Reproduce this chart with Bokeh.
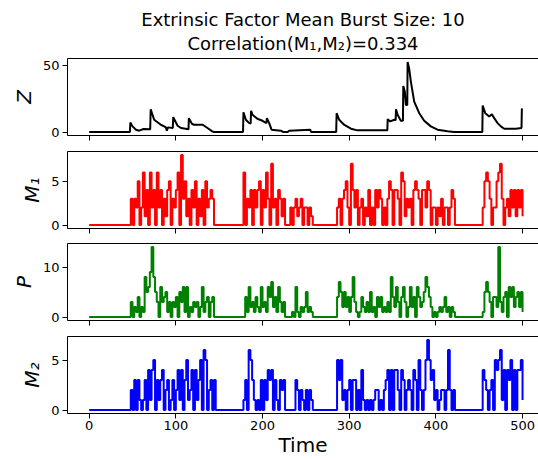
from bokeh.plotting import figure
from bokeh.layouts import column
from bokeh.models import Range1d, FixedTicker, LinearAxis, Title, CustomLabelingPolicy
from bokeh.embed import file_html
from bokeh.resources import INLINE

# ---------------- data ----------------
time_grid = list(range(0, 501, 2))

m1_values = [
    0, 0, 0, 0, 0, 0, 0, 0, 0, 0, 0, 0, 0, 0, 0, 0, 0, 0, 0, 0, 0, 0, 0, 0, 3,
    0, 3, 2, 5, 0, 2, 6, 1, 4, 0, 6, 2, 4, 0, 6, 2, 4, 0, 3, 1, 4, 5, 0, 3, 2,
    4, 6, 0, 8, 3, 5, 1, 3, 0, 4, 2, 5, 0, 3, 1, 4, 0, 5, 2, 3, 4, 3, 0, 0, 0,
    0, 0, 0, 0, 0, 0, 0, 0, 0, 0, 0, 0, 0, 0, 6, 0, 3, 2, 4, 0, 4, 2, 4, 5, 0,
    4, 2, 6, 3, 0, 7, 2, 3, 0, 4, 3, 1, 3, 0, 0, 0, 2, 0, 2, 3, 1, 2, 3, 0, 2,
    2, 0, 2, 1, 0, 0, 0, 0, 0, 0, 0, 0, 0, 0, 0, 0, 0, 0, 2, 3, 0, 3, 4, 5, 2,
    0, 7, 4, 2, 4, 0, 2, 3, 0, 2, 1, 4, 0, 2, 0, 4, 2, 4, 3, 0, 2, 0, 3, 5, 4,
    0, 4, 4, 3, 0, 6, 5, 1, 3, 2, 3, 0, 4, 5, 4, 3, 0, 4, 4, 2, 5, 4, 0, 2, 2,
    0, 2, 1, 3, 0, 2, 2, 0, 2, 4, 3, 0, 0, 0, 0, 0, 0, 0, 0, 0, 0, 0, 0, 0, 0,
    0, 0, 2, 5, 6, 5, 3, 0, 2, 2, 5, 6, 7, 3, 0, 2, 3, 1, 4, 2, 4, 1, 4, 2, 4,
    1,
]

p_values = [
    0, 0, 0, 0, 0, 0, 0, 0, 0, 0, 0, 0, 0, 0, 0, 0, 0, 0, 0, 0, 0, 0, 0, 0, 3,
    0, 2, 1, 4, 0, 2, 1, 8, 5, 6, 9, 14, 8, 5, 3, 0, 6, 3, 4, 5, 1, 3, 0, 3, 2,
    4, 0, 5, 3, 6, 1, 6, 0, 2, 1, 3, 2, 3, 0, 2, 6, 1, 3, 4, 0, 3, 4, 0, 0, 0,
    0, 0, 0, 0, 0, 0, 0, 0, 0, 0, 0, 0, 0, 0, 0, 4, 1, 6, 2, 3, 1, 4, 2, 1, 6,
    2, 3, 1, 6, 4, 7, 2, 4, 1, 6, 3, 1, 3, 0, 0, 0, 0, 1, 0, 6, 1, 0, 2, 1, 2,
    5, 1, 2, 1, 0, 0, 0, 0, 0, 0, 0, 0, 0, 0, 0, 0, 0, 0, 4, 7, 5, 2, 5, 2, 4,
    1, 4, 8, 3, 1, 0, 1, 4, 2, 1, 3, 1, 5, 1, 2, 0, 4, 2, 4, 1, 2, 1, 3, 1, 8,
    4, 2, 6, 3, 0, 4, 6, 3, 0, 2, 6, 2, 4, 0, 6, 4, 2, 3, 5, 8, 6, 4, 2, 0, 1,
    0, 1, 2, 1, 2, 4, 1, 2, 0, 2, 1, 0, 0, 0, 0, 0, 0, 0, 0, 0, 0, 0, 0, 0, 0,
    0, 0, 1, 5, 7, 5, 3, 0, 4, 4, 2, 14, 3, 1, 4, 5, 0, 6, 4, 6, 2, 4, 5, 2, 5,
    1,
]

m2_values = [
    0, 0, 0, 0, 0, 0, 0, 0, 0, 0, 0, 0, 0, 0, 0, 0, 0, 0, 0, 0, 0, 0, 0, 0, 2,
    0, 3, 0, 3, 1, 0, 1, 3, 0, 4, 1, 4, 5, 0, 3, 1, 3, 4, 0, 2, 3, 0, 1, 3, 0,
    2, 4, 1, 4, 0, 3, 5, 1, 2, 4, 0, 4, 1, 3, 5, 0, 6, 5, 0, 2, 3, 0, 3, 0, 0,
    0, 0, 0, 0, 0, 0, 0, 0, 0, 0, 0, 0, 0, 0, 1, 3, 0, 6, 5, 3, 1, 0, 1, 0, 3,
    0, 3, 1, 4, 3, 4, 0, 3, 1, 0, 3, 2, 3, 0, 0, 0, 0, 0, 0, 3, 2, 0, 2, 1, 0,
    2, 0, 2, 1, 0, 0, 0, 0, 0, 0, 0, 0, 0, 0, 0, 0, 0, 0, 5, 3, 5, 1, 2, 0, 2,
    3, 0, 3, 3, 0, 2, 0, 4, 1, 0, 1, 0, 1, 0, 1, 2, 2, 0, 1, 0, 2, 3, 4, 0, 4,
    0, 4, 4, 2, 0, 4, 3, 0, 2, 3, 2, 0, 4, 3, 0, 5, 2, 0, 2, 5, 7, 5, 3, 4, 1,
    2, 0, 1, 2, 2, 0, 2, 6, 2, 0, 2, 0, 0, 0, 0, 0, 0, 0, 0, 0, 0, 0, 0, 0, 0,
    0, 0, 4, 3, 2, 0, 2, 3, 0, 5, 4, 5, 6, 1, 4, 0, 4, 3, 5, 0, 4, 0, 4, 4, 5,
    1,
]

z_time = [0, 47, 47.5, 50, 54, 57.7, 62.7, 70.4, 71, 75,
          82.7, 86.5, 88.5, 89.6, 91, 96.5, 97, 102, 106, 114.6,
          115, 118.5, 121, 131, 136.5, 142, 144, 177.5, 178, 180.8,
          184.6, 186.3, 186.8, 188.5, 194, 200, 204.5, 205, 207.7, 210.4,
          221, 224, 229, 230.8, 255, 256, 285, 285.5, 288.5, 294,
          302, 309.6, 344, 344.4, 347.3, 352, 353.6, 354, 355.8, 359.6,
          362, 362.4, 364.2, 365.4, 367, 367.4, 369.2, 371.2, 375, 380.8,
          386.5, 394.2, 401.9, 413.5, 421, 453.6, 454, 457, 461.5, 464.6,
          467.3, 471.2, 475, 478.8, 492.3, 498.8, 499.2, 500]
z_values = [0, 0, 7.25, 4.25, 1.75, 1, 2.25, 2, 17.25, 9.25,
            5.5, 4.25, 3.5, 1, 3.5, 3, 11.25, 4.75, 3, 2,
            10.5, 6.25, 5.5, 5.5, 3, 0.5, 0, 0, 15, 9.25,
            6.75, 6.5, 16, 13, 10, 8.5, 6.75, 10.5, 6.75, 1.75,
            1, 0, 0, 1, 1.75, 0, 0, 14.25, 9.25, 5.5,
            2.5, 1.25, 1.25, 9.75, 8, 9.25, 9, 17.25, 13, 8.5,
            8.5, 34.75, 30.5, 20.5, 20.5, 53, 48, 38, 23, 14.25,
            8.5, 4.25, 1.75, 0.5, 0, 0, 20, 14.25, 11.75, 13.5,
            10.5, 6.75, 4.25, 2.5, 2.5, 3, 17.5, 17.5]

title_lines = ["Extrinsic Factor Mean Burst Size: 10", "Correlation(M\u2081,M\u2082)=0.334"]
x_ticks = [0, 100, 200, 300, 400, 500]
x_label = "Time"

FONT = "DejaVu Sans"


def style_axis(ax):
    ax.axis_line_color = "black"
    ax.axis_line_width = 1
    ax.major_tick_line_color = "black"
    ax.major_tick_line_width = 1
    ax.major_tick_out = 5
    ax.major_tick_in = 0
    ax.minor_tick_line_color = None
    ax.major_label_text_font = FONT
    ax.major_label_text_font_size = "13px"
    ax.major_label_text_color = "black"
    ax.major_label_standoff = 3
    ax.axis_label_text_font = FONT
    ax.axis_label_text_color = "black"
    ax.axis_label_text_font_size = "20px"
    ax.axis_label_text_font_style = "normal"
    ax.axis_label_standoff = 4


def make_panel(height, b_top, b_bottom, y0, y1, y_ticks, ylabel, last=False):
    p = figure(width=538, height=height, output_backend="svg", toolbar_location=None,
               x_range=Range1d(-25, 518.4), y_range=Range1d(y0, y1),
               x_axis_type=None, y_axis_type=None,
               min_border_left=67, min_border_right=0,
               min_border_top=b_top, min_border_bottom=b_bottom)
    p.outline_line_color = None
    p.background_fill_color = "white"
    p.border_fill_color = "white"

    xb = LinearAxis(ticker=FixedTicker(ticks=x_ticks))
    style_axis(xb)
    if last:
        xb.axis_label = x_label
        xb.major_label_standoff = 2
        xb.axis_label_standoff = 0
    else:
        xb.major_label_text_font_size = "0px"
        xb.major_label_standoff = 0
        xb.major_label_policy = CustomLabelingPolicy(code="return []")
    p.add_layout(xb, "below")

    yl = LinearAxis(ticker=FixedTicker(ticks=y_ticks), axis_label=ylabel)
    style_axis(yl)
    yl.axis_label_text_font_style = "italic"
    p.add_layout(yl, "left")

    top = LinearAxis(ticker=FixedTicker(ticks=[]))
    style_axis(top)
    top.major_tick_out = 0
    top.major_label_text_font_size = "0px"
    top.major_label_standoff = 0
    top.axis_label_standoff = 0
    p.add_layout(top, "above")
    return p


p1 = make_panel(143, 58, 8, -2.65, 55.65, [0, 50], "Z")
line2 = Title(text=title_lines[1], align="center", text_font=FONT, text_font_size="18px",
              text_font_style="normal", text_color="black", standoff=9, offset=-5)
p1.add_layout(line2, "above")
p1.title.text = title_lines[0]
p1.title.align = "center"
p1.title.offset = -5
p1.title.text_font = FONT
p1.title.text_font_size = "18px"
p1.title.text_font_style = "normal"
p1.title.text_color = "black"
p1.title.standoff = -6
p1.line(z_time, z_values, line_color="black", line_width=2)

p2 = make_panel(92, 8, 7, -0.4, 8.4, [0, 5], "M\u2081")
p2.step(time_grid, m1_values, mode="after", line_color="red", line_width=2)

p3 = make_panel(93, 8, 8, -0.7, 14.7, [0, 10], "P")
p3.step(time_grid, p_values, mode="after", line_color="green", line_width=2)

p4 = make_panel(131, 8, 46, -0.35, 7.35, [0, 5], "M\u2082", last=True)
p4.step(time_grid, m2_values, mode="after", line_color="blue", line_width=2)

layout = column(p1, p2, p3, p4, spacing=0)
open("out.html", "w").write(file_html(layout, INLINE))
